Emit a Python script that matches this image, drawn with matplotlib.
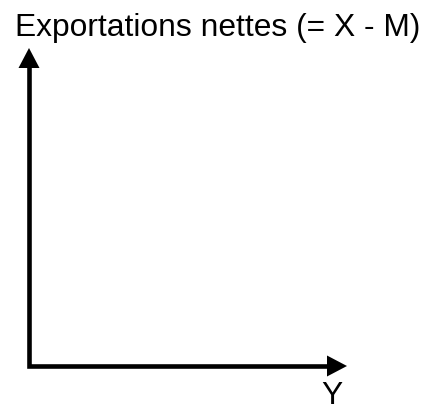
import matplotlib
matplotlib.use('Agg')
import matplotlib.pyplot as plt
from matplotlib.patches import Polygon
from matplotlib.lines import Line2D

y_label = 'Exportations nettes (= X - M)'
x_label = 'Y'

W, H = 436, 409
fig = plt.figure(figsize=(W / 100, H / 100), dpi=100)
ax = fig.add_axes([0, 0, 1, 1])
ax.set_xlim(0, W)
ax.set_ylim(H, 0)
ax.axis('off')

# origin of the axes and ends of the arrows, in pixels
ox, oy = 29, 366
top, right = 48, 347
head_len, head_w = 20, 21
lw_px = 4.6

shaft = Line2D([ox, ox, right - head_len + 1], [top + head_len - 1, oy, oy],
               color='black', lw=lw_px * 72 / 100,
               solid_joinstyle='miter', solid_capstyle='butt')
ax.add_line(shaft)
ax.add_patch(Polygon([(ox - head_w / 2, top + head_len), (ox + head_w / 2, top + head_len), (ox, top)],
                     closed=True, color='black', lw=0))
ax.add_patch(Polygon([(right - head_len, oy - head_w / 2), (right - head_len, oy + head_w / 2), (right, oy)],
                     closed=True, color='black', lw=0))

font = 'Liberation Sans'
ax.text(15, 36, y_label, fontsize=22.9, family=font, ha='left', va='baseline')
ax.text(332, 404, x_label, fontsize=22.9, family=font, ha='center', va='baseline')

fig.savefig('out.png', dpi=100)
